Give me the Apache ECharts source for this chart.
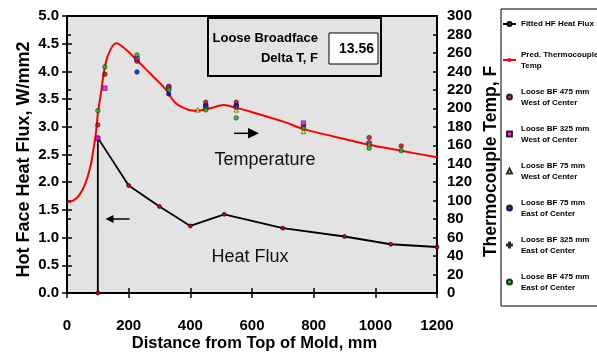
<!DOCTYPE html>
<html><head><meta charset="utf-8">
<script src="https://cdn.jsdelivr.net/npm/echarts@6/dist/echarts.min.js"></script>
<style>html,body{margin:0;padding:0;background:#fff}#c{width:597px;height:354px}</style>
</head><body><div id="c"></div>
<script>
// Heat flux (left axis, W/mm2)
const hfX = [100, 100, 200, 300, 400, 510, 700, 900, 1050, 1200];
const hfY = [0, 2.8, 1.94, 1.56, 1.21, 1.42, 1.17, 1.02, 0.88, 0.83];
// Predicted thermocouple temperature (right axis, F)
const predX = [0, 20, 40, 60, 76, 86, 93, 100, 108, 124, 140, 160, 173, 200, 227, 281, 319, 351, 394, 424, 465, 508, 549, 594, 702, 767, 865, 980, 1084, 1200];
const predY = [98, 100, 106, 119, 137, 156, 171, 194, 212, 247, 263, 270.5, 268.6, 261, 252, 234, 221, 206, 198.5, 197.5, 200, 203.5, 200.5, 196.5, 185.6, 177.5, 169.5, 160.5, 154, 147];
// Measured thermocouple temperatures [mm, F]
const w475 = [[100, 182], [123, 237], [227, 251], [330, 224], [450, 206.6], [549, 206.6], [767, 181], [980, 168.3], [1084, 159.3]];
const w325 = [[100, 167.7], [123, 221.8], [227, 254], [330, 222], [450, 202], [549, 202], [767, 184], [980, 162]];
const w75 = [[424, 198.3], [549, 198.3], [767, 175], [980, 161.5]];
const e75 = [[227, 239.4], [330, 215.6], [450, 203], [549, 203]];
const e325 = [[227, 253], [330, 223], [450, 201], [549, 201], [980, 163]];
const e475 = [[100, 197.5], [123, 245], [227, 257.8], [330, 220], [450, 198.3], [549, 189.6], [767, 178.5], [980, 156.8], [1084, 154]];

const legendLabels = {
  'Fitted HF Heat Flux': 'Fitted HF Heat Flux',
  'Pred. Thermocouple Temp': 'Pred. Thermocouple\nTemp',
  'Loose BF 475 mm West of Center': 'Loose BF 475 mm\nWest of Center',
  'Loose BF 325 mm West of Center': 'Loose BF 325 mm\nWest of Center',
  'Loose BF 75 mm West of Center': 'Loose BF 75 mm\nWest of Center',
  'Loose BF 75 mm East of Center': 'Loose BF 75 mm\nEast of Center',
  'Loose BF 325 mm East of Center': 'Loose BF 325 mm\nEast of Center',
  'Loose BF 475 mm East of Center': 'Loose BF 475 mm\nEast of Center'
};

const FONT = '"Liberation Sans", Arial, sans-serif';
const plus = 'path://M4,0H6V4H10V6H6V10H4V6H0V4H4Z';
const square = 'path://M0,0H10V10H0Z';
const tri = 'path://M5,0L10,10H0Z';

function scat(name, data, symbol, color) {
  return {
    name, type: 'scatter', xAxisIndex: 0, yAxisIndex: 1, data, symbol,
    symbolSize: symbol === plus ? 5 : 4.5, symbolKeepAspect: true,
    itemStyle: { color, borderColor: '#000', borderWidth: symbol === plus ? 0.3 : 0.6 },
    z: 5
  };
}

const chart = echarts.init(document.getElementById('c'), null, { renderer: 'canvas' });
const axisLbl = { fontFamily: FONT, fontWeight: 'bold', fontSize: 15, color: '#000' };
chart.setOption({
  animation: false,
  textStyle: { fontFamily: FONT },
  grid: { left: 67, right: 160, top: 16, bottom: 61, show: true, backgroundColor: '#e3e3e3', borderColor: '#000', borderWidth: 2, containLabel: false, outerBoundsMode: 'none' },
  xAxis: [{
    type: 'value', min: 0, max: 1200, interval: 200,
    axisLine: { show: true, onZero: false, lineStyle: { color: '#000', width: 2 } },
    axisTick: { show: true, length: 5, lineStyle: { color: '#000', width: 1.5 } },
    splitLine: { show: false },
    axisLabel: Object.assign({ margin: 25, formatter: v => String(v) }, axisLbl),
    name: 'Distance from Top of Mold, mm', nameLocation: 'middle', nameGap: 42, nameMoveOverlap: false,
    nameTextStyle: { fontFamily: FONT, fontWeight: 'bold', fontSize: 16.5, color: '#000', padding: [0, 0, 0, 5] }
  }, {
    type: 'value', min: 0, max: 1200, interval: 200, position: 'bottom',
    axisLine: { show: false }, axisLabel: { show: false }, splitLine: { show: false },
    axisTick: { show: true, inside: true, length: 5, lineStyle: { color: '#000', width: 1.5 } }
  }],
  yAxis: [{
    type: 'value', min: 0, max: 5, interval: 0.5, position: 'left',
    axisLine: { show: true, lineStyle: { color: '#000', width: 2 } },
    axisTick: { show: true, length: 5, lineStyle: { color: '#000', width: 1.5 } },
    splitLine: { show: false },
    axisLabel: Object.assign({ margin: 8, formatter: v => v.toFixed(1) }, axisLbl),
    name: 'Hot Face Heat Flux, W/mm2', nameLocation: 'middle', nameGap: 34, nameRotate: 90, nameMoveOverlap: false,
    nameTextStyle: { fontFamily: FONT, fontWeight: 'bold', fontSize: 18, color: '#000', padding: [0, 10, 0, 0] }
  }, {
    type: 'value', min: 0, max: 300, interval: 20, position: 'right',
    axisLine: { show: true, lineStyle: { color: '#000', width: 2 } },
    axisTick: { show: true, length: 4, lineStyle: { color: '#000', width: 1.5 } },
    splitLine: { show: false },
    axisLabel: Object.assign({ margin: 10 }, axisLbl),
    name: 'Thermocouple Temp, F', nameLocation: 'middle', nameGap: 45, nameRotate: 90, nameMoveOverlap: false,
    nameTextStyle: { fontFamily: FONT, fontWeight: 'bold', fontSize: 17.5, color: '#000', padding: [0, 14, 0, 0] }
  }, {
    type: 'value', min: 0, max: 5, interval: 0.5, position: 'left',
    axisLine: { show: false }, axisLabel: { show: false }, splitLine: { show: false },
    axisTick: { show: true, inside: true, length: 5, lineStyle: { color: '#000', width: 1.5 } }
  }, {
    type: 'value', min: 0, max: 300, interval: 20, position: 'right',
    axisLine: { show: false }, axisLabel: { show: false }, splitLine: { show: false },
    axisTick: { show: true, inside: true, length: 4, lineStyle: { color: '#000', width: 1.5 } }
  }],
  legend: {
    orient: 'vertical', left: 502, top: 8.5, padding: 0, itemGap: 4,
    itemWidth: 13, itemHeight: 5, selectedMode: false, symbolKeepAspect: true,
    formatter: n => legendLabels[n] || n,
    textStyle: { fontFamily: FONT, fontWeight: 'bold', fontSize: 8, lineHeight: 11, color: '#000', padding: [11, 0, 0, 0] },
    data: [
      { name: 'Fitted HF Heat Flux', textStyle: { padding: [10, 0, 10, 0] } },
      'Pred. Thermocouple Temp',
      'Loose BF 475 mm West of Center',
      { name: 'Loose BF 325 mm West of Center', icon: square },
      { name: 'Loose BF 75 mm West of Center', icon: tri },
      'Loose BF 75 mm East of Center',
      'Loose BF 325 mm East of Center',
      'Loose BF 475 mm East of Center'
    ]
  },
  graphic: [
    { type: 'rect', shape: { x: 501, y: 9, width: 110, height: 297 }, style: { fill: '#fff', stroke: '#000', lineWidth: 1 }, z: -1 },
    { type: 'rect', shape: { x: 208, y: 18, width: 173, height: 58 }, style: { fill: '#e3e3e3', stroke: '#000', lineWidth: 2 }, z: 10 },
    { type: 'text', x: 318, y: 38, style: { text: 'Loose Broadface', font: 'bold 13px ' + FONT, fill: '#000', align: 'right', verticalAlign: 'middle' }, z: 11 },
    { type: 'text', x: 318, y: 58, style: { text: 'Delta T, F', font: 'bold 13px ' + FONT, fill: '#000', align: 'right', verticalAlign: 'middle' }, z: 11 },
    { type: 'rect', shape: { x: 329, y: 33, width: 49, height: 31 }, style: { fill: '#fff', stroke: '#000', lineWidth: 1 }, z: 11 },
    { type: 'text', x: 356.5, y: 49, style: { text: '13.56', font: 'bold 14px ' + FONT, fill: '#000', align: 'center', verticalAlign: 'middle' }, z: 12 },
    { type: 'text', x: 265, y: 160, style: { text: 'Temperature', font: '18px ' + FONT, fill: '#111', align: 'center', verticalAlign: 'middle' }, z: 10 },
    { type: 'text', x: 250, y: 257, style: { text: 'Heat Flux', font: '18px ' + FONT, fill: '#111', align: 'center', verticalAlign: 'middle' }, z: 10 },
    { type: 'line', shape: { x1: 234, y1: 133.3, x2: 249, y2: 133.3 }, style: { stroke: '#000', lineWidth: 1.5 }, z: 10 },
    { type: 'polygon', shape: { points: [[248, 128], [259, 133.3], [248, 138.6]] }, style: { fill: '#000' }, z: 10 },
    { type: 'line', shape: { x1: 112, y1: 219, x2: 129.5, y2: 219 }, style: { stroke: '#000', lineWidth: 1.5 }, z: 10 },
    { type: 'polygon', shape: { points: [[113.5, 215], [105.5, 219], [113.5, 223]] }, style: { fill: '#000' }, z: 10 }
  ],
  series: [
    {
      name: 'Fitted HF Heat Flux', type: 'line', xAxisIndex: 0, yAxisIndex: 0,
      data: hfX.map((x, i) => [x, hfY[i]]),
      symbol: 'circle', symbolSize: 4, showSymbol: true,
      lineStyle: { color: '#000', width: 1.8 },
      itemStyle: { color: '#d00000', borderColor: '#000', borderWidth: 0.6 },
      z: 3
    },
    {
      name: 'Pred. Thermocouple Temp', type: 'line', xAxisIndex: 0, yAxisIndex: 1,
      data: predX.map((x, i) => [x, predY[i]]),
      symbol: 'none', smooth: 0.3,
      lineStyle: { color: '#ff0000', width: 2 },
      itemStyle: { color: '#ff0000' },
      z: 4
    },
    scat('Loose BF 475 mm West of Center', w475, 'circle', '#cc0000'),
    scat('Loose BF 325 mm West of Center', w325, square, '#ff00ff'),
    scat('Loose BF 75 mm West of Center', w75, tri, '#ffff00'),
    scat('Loose BF 75 mm East of Center', e75, 'circle', '#0000ff'),
    scat('Loose BF 325 mm East of Center', e325, plus, '#777777'),
    scat('Loose BF 475 mm East of Center', e475, 'circle', '#00cc00')
  ]
});
</script>
</body></html>
